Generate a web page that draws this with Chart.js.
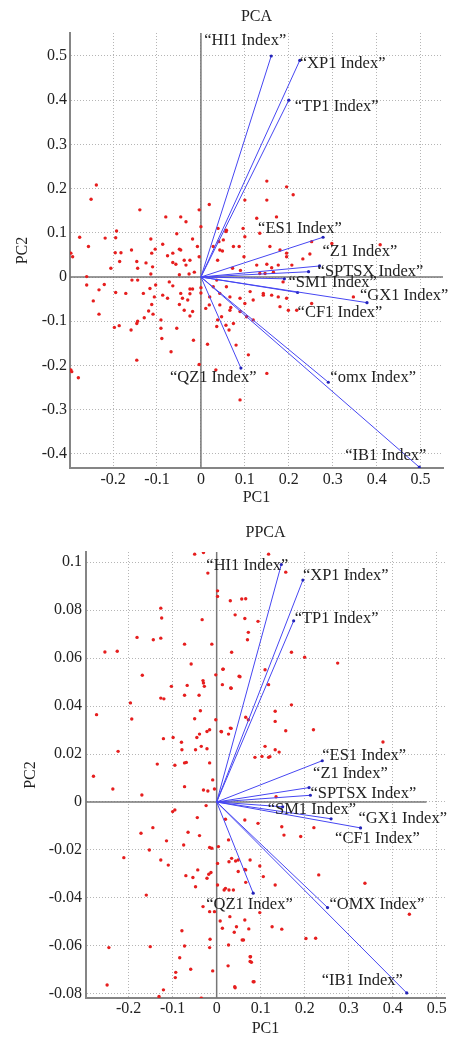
<!DOCTYPE html>
<html>
<head>
<meta charset="utf-8">
<script src="https://cdn.jsdelivr.net/npm/chart.js@4.4.0/dist/chart.umd.min.js"></script>
<style>
  html, body { margin: 0; padding: 0; background: #fff; }
  #wrap { position: relative; width: 449px; height: 1038px; overflow: hidden; }
  canvas { position: absolute; left: 0; }
</style>
</head>
<body>
<div id="wrap">
  <canvas id="pcaChart" width="449" height="519" style="top:0"></canvas>
  <canvas id="ppcaChart" width="449" height="519" style="top:519px"></canvas>
</div>
<script>
// ===== Data =====
const pcaNames = ["HI1 Index", "XP1 Index", "TP1 Index", "ES1 Index", "Z1 Index", "SPTSX Index",
  "SM1 Index", "GX1 Index", "CF1 Index", "QZ1 Index", "omx Index", "IB1 Index"];
const ppcaNames = ["HI1 Index", "XP1 Index", "TP1 Index", "ES1 Index", "Z1 Index", "SPTSX Index",
  "SM1 Index", "GX1 Index", "CF1 Index", "QZ1 Index", "OMX Index", "IB1 Index"];

// loadings (vector tips)
const pcaLoadPC1 = [0.16, 0.225, 0.2, 0.278, 0.27, 0.245, 0.19, 0.378, 0.22, 0.091, 0.29, 0.497];
const pcaLoadPC2 = [0.5, 0.49, 0.4, 0.09, 0.025, 0.012, -0.004, -0.058, -0.035, -0.206, -0.238, -0.43];
const ppcaLoadPC1 = [0.147, 0.196, 0.175, 0.24, 0.21, 0.213, 0.15, 0.327, 0.26, 0.083, 0.252, 0.432];
const ppcaLoadPC2 = [0.099, 0.0925, 0.0755, 0.0172, 0.006, 0.0028, -0.002, -0.0108, -0.007, -0.038, -0.044, -0.0796];

// scores (red dots)
const pcaScorePC1 = [-0.238, -0.25, -0.139, -0.08, -0.046, -0.034, 0.019, -0.004, 0, -0.192, -0.194, -0.276, -0.218,
  -0.055, -0.019, -0.087, -0.114, -0.256, -0.296, -0.292, -0.195, -0.182, -0.158, -0.146, -0.125, -0.112, -0.104,
  -0.11, -0.185, -0.205, -0.144, -0.114, -0.076, -0.064, -0.049, -0.046, -0.064, -0.057, -0.038, -0.025, -0.034,
  -0.049, -0.027, -0.015, -0.008, -0.004, -0.26, -0.26, -0.232, -0.22, -0.194, -0.171, -0.157, -0.144, -0.103,
  -0.116, -0.072, -0.064, -0.046, -0.025, -0.019, -0.025, -0.106, -0.087, -0.131, 0, 0, -0.245, -0.232, -0.144,
  -0.146, -0.129, -0.119, -0.109, -0.112, -0.197, -0.186, -0.159, -0.091, -0.089, -0.055, -0.068, -0.091, -0.049,
  -0.038, -0.03, -0.019, -0.025, -0.017, 0.015, -0.146, -0.004, -0.296, -0.294, -0.279, 0.034, 0.089, 0.011, 0.038,
  0.057, 0.08, 0.064, 0.043, 0.019, 0.068, -0.076, -0.042, 0.036, 0.058, 0.028, 0.043, 0.066, 0.089, 0.1, 0.119,
  0.142, 0.161, 0.176, 0.195, 0.18, 0.199, 0.218, 0.252, 0.347, 0.066, 0.089, 0.104, 0.119, 0.074, 0.108, 0.15,
  0.036, 0.047, 0.15, 0.195, 0.21, 0.1, 0.15, 0.039, 0.058, 0.096, 0.1, 0.134, 0.127, 0.172, 0.157, 0.18, 0.195,
  0.074, 0.051, 0.043, 0.028, 0.408, 0.298, 0.252, 0.232, 0.248, 0.098, 0.127, 0.15, 0.161, 0.176, 0.195, 0.207,
  0.134, 0.146, 0.165, 0.187, 0.112, 0.142, 0.041, 0.049, 0.038, 0.087, 0.057, 0.072, 0.09, 0.02];
const pcaScorePC2 = [0.208, 0.176, 0.152, 0.136, 0.136, 0.125, 0.164, 0.152, 0.114, 0.104, 0.089, 0.09, 0.088,
  0.098, 0.086, 0.074, 0.086, 0.069, 0.054, 0.046, 0.055, 0.055, 0.061, 0.035, 0.032, 0.054, 0.063,
  0.023, 0.035, 0.02, 0.02, 0.007, 0.048, 0.054, 0.063, 0.061, 0.033, 0.029, 0.038, 0.038, 0.027,
  0.005, 0.007, 0.011, 0.069, 0.046, 0.001, -0.018, -0.029, -0.017, -0.035, -0.037, -0.007, -0.007, -0.018,
  -0.026, -0.011, -0.02, -0.037, -0.027, -0.027, -0.038, -0.045, -0.041, -0.037, -0.024, -0.036, -0.054, -0.084, -0.1,
  -0.105, -0.092, -0.077, -0.084, -0.062, -0.114, -0.11, -0.12, -0.116, -0.139, -0.116, -0.169, -0.097, -0.062,
  -0.075, -0.052, -0.078, -0.088, -0.143, -0.152, -0.188, -0.198, -0.21, -0.214, -0.228, -0.21, -0.278, -0.071, -0.097,
  -0.109, -0.154, -0.12, -0.063, -0.063, -0.069, -0.048, -0.048, -0.007, -0.022, -0.022, -0.037, -0.045, -0.048, -0.06, -0.052,
  -0.041, -0.041, -0.045, -0.048, -0.067, -0.075, -0.075, -0.06, -0.045, -0.075, -0.078, -0.09, -0.097, -0.105, -0.176, -0.218,
  -0.112, -0.09, 0.217, 0.204, 0.186, 0.174, 0.174, 0.11, 0.106, 0.11, 0.091, 0.099, 0.133, 0.136, 0.069, 0.061, 0.054,
  0.069, 0.084, 0.061, 0.069, 0.073, 0.076, 0.08, 0.041, 0.052, 0.046, 0.027, 0.029, 0.021, 0.027, 0.046, 0.027,
  0.008, 0.008, 0.011, -0.011, -0.033, -0.037, 0.08, 0.059, 0.038, 0.069, 0.103, 0.02, 0.015, -0.045];

const ppcaScorePC1 = [-0.05, -0.03, -0.02, 0.002, 0.002, 0.031, 0.066, 0.042, -0.127, -0.125, -0.033, 0.094, 0.072,
  0.07, -0.181, -0.144, -0.127, -0.073, -0.011, -0.254, -0.226, 0.034, -0.058, 0.015, -0.002, -0.169, -0.067, -0.031,
  -0.03, -0.028, 0.013, 0.032, 0.051, -0.103, -0.073, -0.04, -0.127, -0.12, -0.196, -0.273, -0.193, -0.037, -0.05,
  -0.002, 0.066, 0.072, 0.031, 0.027, 0.01, -0.016, -0.022, -0.039, -0.045, -0.121, -0.099, -0.08, -0.079, -0.048,
  -0.035, -0.022, -0.224, -0.135, -0.095, -0.073, -0.069, -0.016, -0.28, 0.087, -0.236, -0.17, -0.073, -0.03, -0.02,
  -0.005, -0.009, -0.1, -0.095, -0.024, -0.044, -0.145, -0.172, -0.065, -0.039, -0.114, -0.075, -0.016, -0.011, 0.004,
  -0.153, -0.211, -0.127, -0.11, 0.002, 0.028, 0.043, 0.049, 0.066, -0.013, -0.018, -0.043, -0.07, -0.054, -0.022,
  -0.048, 0.002, 0.017, 0.028, 0.066, -0.16, -0.031, -0.016, -0.005, 0.008, 0.013, 0.03, 0.064, 0.04, 0.045, 0.058,
  0.073, -0.079, -0.073, -0.015, -0.016, 0.027, -0.245, -0.151, -0.084, -0.059, -0.009, 0.026, -0.093, -0.094, 0.077,
  0.079, 0.085, 0.041, -0.249, -0.121, -0.131, -0.035, 0.118, 0.157, 0.17, 0.2, 0.275, 0.11, 0.118, 0.17, 0.133,
  0.133, 0.157, 0.22, 0.378, 0.11, 0.133, 0.142, 0.118, 0.103, 0.057, 0.064, 0.014, 0.053, 0.033, 0.011, 0.033, 0.121,
  0.148, 0.153, 0.191, 0.221, 0.232, 0.337, 0.133, 0.106, 0.126, 0.148, 0.225, 0.438, 0.135, 0.02, 0.064, 0.094,
  0.027, 0.034, 0.049, 0.076, 0.098, 0.064, 0.02, 0.038, 0.098, 0.061, 0.203, 0.076, 0.076, 0.083, 0.042];
const ppcaScorePC2 = [0.1033, 0.104, 0.0954, 0.088, 0.0857, 0.0839, 0.0847, 0.078, 0.0808, 0.0767, 0.076, 0.0753, 0.0707,
  0.0676, 0.0686, 0.0676, 0.0683, 0.0658, 0.0658, 0.0625, 0.0628, 0.0624, 0.0575, 0.0554, 0.053, 0.0528, 0.0486, 0.0506,
  0.0496, 0.0482, 0.0489, 0.0475, 0.0524, 0.0482, 0.0445, 0.0445, 0.0433, 0.043, 0.0413, 0.0364, 0.0346, 0.038, 0.0347,
  0.0343, 0.0353, 0.0343, 0.0308, 0.0283, 0.0294, 0.0301, 0.0294, 0.0283, 0.0269, 0.0264, 0.0269, 0.0249, 0.0218, 0.0218,
  0.0232, 0.0222, 0.0211, 0.0158, 0.0153, 0.0163, 0.0165, 0.0163, 0.0107, 0.0186, 0.0054, 0.0029, 0.0064, 0.005, 0.0046,
  0.0054, 0.0092, -0.004, -0.0033, -0.0015, -0.0065, -0.0107, -0.013, -0.0126, -0.014, -0.0162, -0.0179, -0.019, -0.0193, -0.0186,
  -0.02, -0.0232, -0.0242, -0.0263, -0.0256, -0.0249, -0.0246, -0.029, -0.0283, -0.0294, -0.0301, -0.0283, -0.0307, -0.0315, -0.0318,
  -0.0353, -0.0346, -0.0367, -0.0367, -0.0335, -0.0388, -0.0436, -0.0457, -0.0457, -0.0496, -0.0526, -0.0478, -0.0492, -0.0543, -0.052, -0.0575,
  -0.0529, -0.0537, -0.06, -0.0572, -0.0607, -0.0596, -0.0607, -0.0603, -0.0649, -0.0697, -0.0704, -0.0683, -0.071, -0.0732, -0.0645,
  -0.0668, -0.0749, -0.077, -0.0763, -0.0783, -0.0811, -0.0818, 0.1033, 0.0958, 0.0624, 0.0603, 0.0579, 0.0551, 0.0489, 0.0405, 0.0378,
  0.0336, 0.0297, 0.0301, 0.025, 0.0232, 0.0218, 0.0208, 0.0186, 0.019, 0.0846, 0.0765, 0.0553, 0.0522, 0.0474, 0.0293, 0.0307, 0.0189,
  -0.0103, -0.0138, -0.0144, -0.0107, -0.0304, -0.0339, -0.0346, -0.0311, -0.052, -0.053, -0.0568, -0.0468, 0.0022, -0.0072, -0.0075, -0.0089,
  -0.0158, -0.0235, -0.0242, -0.0242, -0.0267, -0.0281, -0.036, -0.0367, -0.0461, -0.0575, -0.0569, -0.0645, -0.0665, -0.0749, -0.0774];

// tick labels
const pcaXTicks = [-0.2, -0.1, 0, 0.1, 0.2, 0.3, 0.4, 0.5];
const pcaYTicks = [-0.4, -0.3, -0.2, -0.1, 0, 0.1, 0.2, 0.3, 0.4, 0.5];
const ppcaXTicks = [-0.2, -0.1, 0, 0.1, 0.2, 0.3, 0.4, 0.5];
const ppcaYTicks = [-0.08, -0.06, -0.04, -0.02, 0, 0.02, 0.04, 0.06, 0.08, 0.1];

// ===== Layout (pixel offsets of labels from vector tips) =====
const pcaLabelOffset = [[-67, -15], [0, 3], [6, 6], [-65, -9], [3, -14], [9, 0], [4, 4], [-7, -7], [0, 20], [-71, 10], [2, -5], [-74, -11]];
const ppcaLabelOffset = [[-75, 1], [0, -4], [1, -2], [0, -5], [4, -14], [0, -2], [-15, 3], [-2, -9], [4, 20], [-47, 12], [2, -3], [-85, -12]];

const FONT = "'Liberation Serif', 'DejaVu Serif', serif";
const TEXT = "#222";

function fmt(v) {
  return String(Number(v.toFixed(3)));
}

function buildBiplot(id, o) {
  const vectors = o.names.map((name, i) => ({
    data: [{ x: 0, y: 0 }, { x: o.loadX[i], y: o.loadY[i] }],
    showLine: true,
    borderColor: "#4646f2",
    borderWidth: 1,
    pointRadius: [0, 1.6],
    pointBackgroundColor: "#2323b8",
    pointBorderWidth: 0,
  }));
  const scores = {
    data: o.scoreX.map((x, i) => ({ x: x, y: o.scoreY[i] })),
    pointRadius: 1.7,
    pointBackgroundColor: "#e61e1e",
    pointBorderWidth: 0,
  };
  const zeroLines = [
    { data: [{ x: 0, y: o.yMin }, { x: 0, y: o.yMax }] },
    { data: [{ x: o.xMin, y: 0 }, { x: o.hEnd, y: 0 }] },
  ].map((d) => Object.assign(d, { showLine: true, borderColor: "#777", borderWidth: 1.5, pointRadius: 0 }));

  // labels + title
  const textPlugin = {
    id: "biplotText" + id,
    afterDatasetsDraw(chart) {
      const { ctx, scales, chartArea } = chart;
      ctx.save();
      ctx.font = "16.5px " + FONT;
      ctx.fillStyle = TEXT;
      ctx.textBaseline = "middle";
      ctx.textAlign = "left";
      o.names.forEach((name, i) => {
        const px = scales.x.getPixelForValue(o.loadX[i]) + o.labelOffset[i][0];
        const py = scales.y.getPixelForValue(o.loadY[i]) + o.labelOffset[i][1];
        ctx.fillText("\u201C" + name + "\u201D", px, py);
      });
      ctx.font = "16px " + FONT;
      ctx.textAlign = "center";
      ctx.fillText(o.title, (chartArea.left + chartArea.right) / 2, o.titleY);
      ctx.restore();
    },
  };

  return new Chart(document.getElementById(id), {
    type: "scatter",
    data: { datasets: [...vectors, scores, ...zeroLines] },
    options: {
      responsive: false,
      animation: false,
      events: [],
      layout: { padding: { top: o.padTop, right: o.padRight, left: 0, bottom: 0 } },
      plugins: { legend: { display: false }, tooltip: { enabled: false } },
      scales: {
        x: {
          type: "linear",
          min: o.xMin,
          max: o.xMax,
          afterBuildTicks: (s) => { s.ticks = o.xTicks.map((v) => ({ value: v })); },
          afterFit: (s) => { s.height = o.xAxisH; },
          grid: { color: "#b5b5b5", lineWidth: 1, drawTicks: false },
          border: { display: true, color: "#858585", width: 2, dash: [1, 2] },
          ticks: { font: { family: FONT, size: 16 }, color: TEXT, padding: o.xTickPad, maxRotation: 0, autoSkip: false, callback: (v) => fmt(v) },
          title: { display: true, text: "PC1", font: { family: FONT, size: 16 }, color: TEXT, padding: { top: 0, bottom: o.xTitlePad } },
        },
        y: {
          type: "linear",
          min: o.yMin,
          max: o.yMax,
          afterBuildTicks: (s) => { s.ticks = o.yTicks.map((v) => ({ value: v })); },
          afterFit: (s) => { s.width = o.yAxisW; },
          grid: { color: "#b5b5b5", lineWidth: 1, drawTicks: false },
          border: { display: true, color: "#858585", width: 2, dash: [1, 2] },
          ticks: { font: { family: FONT, size: 16 }, color: TEXT, padding: o.yTickPad, autoSkip: false, callback: (v) => fmt(v) },
          title: { display: true, text: "PC2", font: { family: FONT, size: 16 }, color: TEXT, padding: { top: o.yTitlePad, bottom: 0 } },
        },
      },
    },
    plugins: [textPlugin],
  });
}

buildBiplot("pcaChart", {
  title: "PCA", titleY: 17,
  names: pcaNames, loadX: pcaLoadPC1, loadY: pcaLoadPC2, labelOffset: pcaLabelOffset,
  scoreX: pcaScorePC1, scoreY: pcaScorePC2,
  xTicks: pcaXTicks, yTicks: pcaYTicks,
  xMin: -0.298, xMax: 0.551, yMin: -0.432, yMax: 0.552, hEnd: 0.551,
  padTop: 33, padRight: 6, xAxisH: 51, yAxisW: 70,
  xTickPad: 2, xTitlePad: 12, yTickPad: 3, yTitlePad: 13,
});

buildBiplot("ppcaChart", {
  title: "PPCA", titleY: 14,
  names: ppcaNames, loadX: ppcaLoadPC1, loadY: ppcaLoadPC2, labelOffset: ppcaLabelOffset,
  scoreX: ppcaScorePC1, scoreY: ppcaScorePC2,
  xTicks: ppcaXTicks, yTicks: ppcaYTicks,
  xMin: -0.297, xMax: 0.519, yMin: -0.0817, yMax: 0.1042, hEnd: 0.477,
  padTop: 33, padRight: 0, xAxisH: 40, yAxisW: 86,
  xTickPad: 1, xTitlePad: 0, yTickPad: 4, yTitlePad: 21,
});
</script>
</body>
</html>
